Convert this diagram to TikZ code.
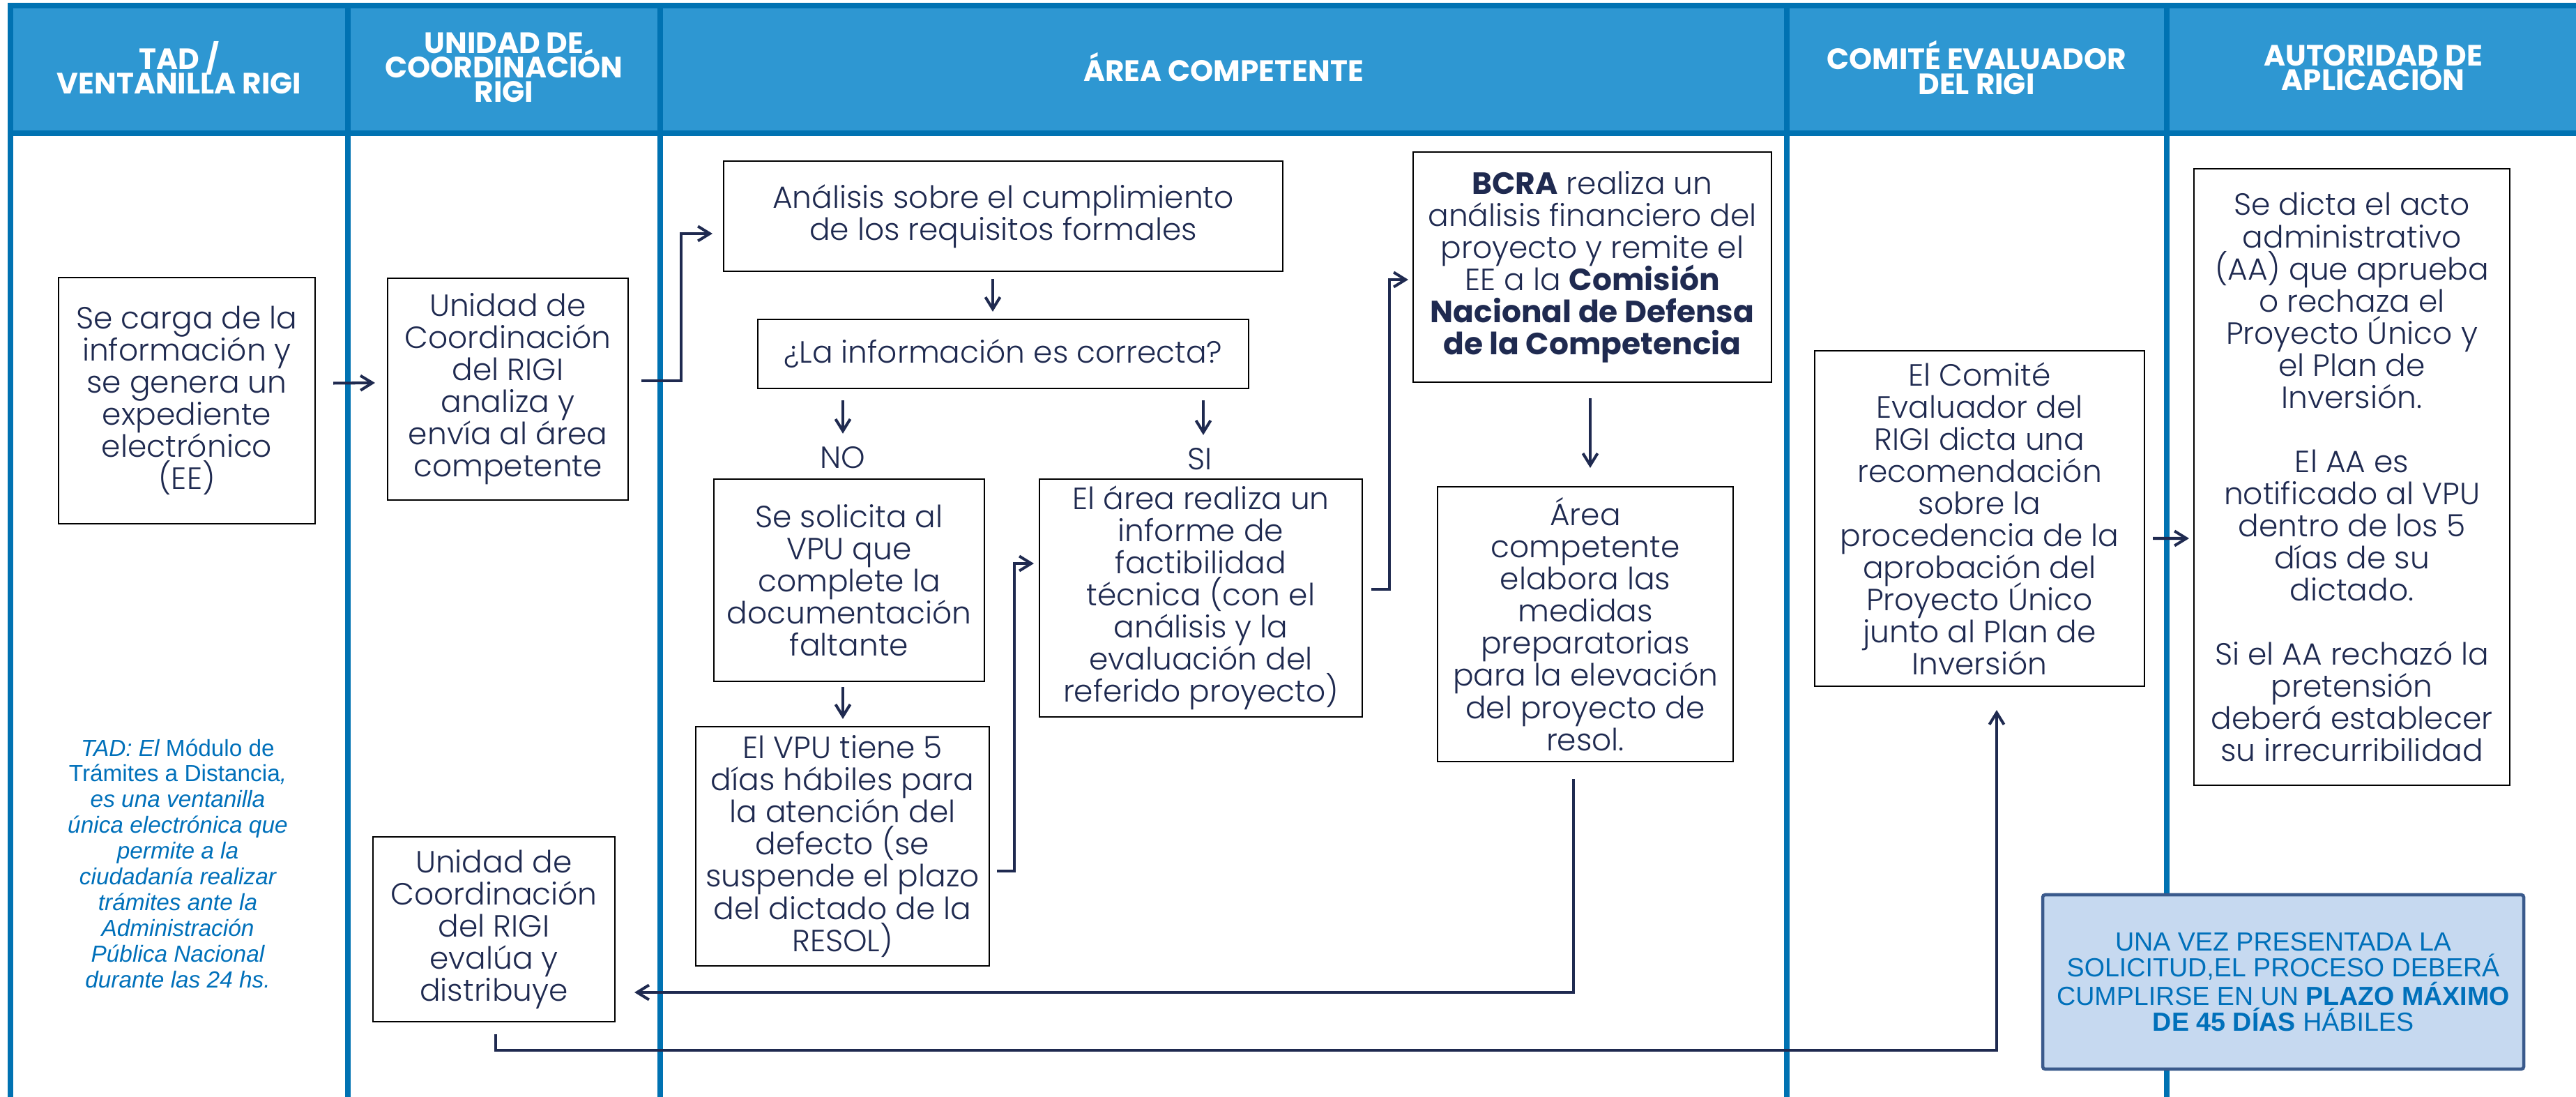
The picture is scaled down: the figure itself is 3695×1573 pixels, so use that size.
\documentclass[tikz,border=0pt]{standalone}
\usepackage{fontspec}
\setmainfont{Poppins}[UprightFont=* Light, BoldFont=* Bold]
\newfontfamily\headfont{Poppins}[UprightFont=* Bold]
\newfontfamily\arialfont{Liberation Sans}
\usetikzlibrary{arrows,arrows.meta,calc}
\definecolor{peterriver}{RGB}{46, 151, 210}
\definecolor{belizehole}{RGB}{0, 114, 178}
\definecolor{midnight}{RGB}{31, 42, 80}
\definecolor{cobalt}{RGB}{0, 112, 186}
\definecolor{skyfill}{RGB}{198, 217, 240}
\definecolor{steel}{RGB}{58, 90, 140}
\newcommand\tightlines{\lineskiplimit-100pt\relax}
\tikzset{
    lane/.style={belizehole, line width=0.8mm},
    head/.style={text=white, align=center, inner sep=0pt, font=\fontsize{12pt}{10pt}\selectfont\headfont\tightlines},
    box/.style={draw=black, line width=0.6pt, fill=white, align=center, inner sep=0pt, text=midnight, font=\fontsize{12.5pt}{13.1pt}\selectfont\tightlines},
    yesno/.style={inner sep=0pt, text=midnight, text height=3.1mm, text depth=0pt, font=\fontsize{12.5pt}{13.1pt}\selectfont},
    arr/.style={midnight, line width=1.15pt, -{Straight Barb[length=1.7mm, width=2.1mm]}}
}
\begin{document}
        \begin{tikzpicture}[x=0.1mm, y=-0.1mm]
            \useasboundingbox (0,0) rectangle (3695,1573);
            \fill[peterriver] (15,8) rectangle (3695,191);
            \draw[lane] (15,1573) -- (15,8) -- (3695,8);
            \draw[lane] (15,191) -- (3695,191);
            \foreach \x in {499,947,2563,3108}
                \draw[lane] (\x,8) -- (\x,1573);
            \node[head] (h1) at (257,97) {TAD /\\VENTANILLA RIGI};
            \node[head] (h2) at (723,97) {UNIDAD DE\\COORDINACIÓN\\RIGI};
            \node[head] (h3) at (1755,96) {ÁREA COMPETENTE};
            \node[head] (h4) at (2835,97) {COMITÉ EVALUADOR\\DEL RIGI};
            \node[head] (h5) at (3404,97) {AUTORIDAD DE\\APLICACIÓN};

            \node[box, minimum width=36.8mm, minimum height=35.3mm] (carga) at (268,574.5)
                {Se carga de la\\información y\\se genera un\\expediente\\electrónico\\(EE)};
            \node[box, minimum width=34.5mm, minimum height=31.8mm] (analiza) at (728.5,558)
                {Unidad de\\Coordinación\\del RIGI\\analiza y\\envía al área\\competente};
            \node[box, minimum width=80.2mm, minimum height=15.8mm] (analisis) at (1439,310)
                {Análisis sobre el cumplimiento\\de los requisitos formales};
            \node[box, minimum width=70.4mm, minimum height=9.9mm] (pregunta) at (1439,507.5)
                {¿La información es correcta?};
            \node[yesno] (no) at (1209,656) {NO};
            \node[yesno] (si) at (1721,658) {SI};
            \node[box, minimum width=38.8mm, minimum height=29mm] (solicita) at (1218,832)
                {Se solicita al\\VPU que\\complete la\\documentación\\faltante};
            \node[box, minimum width=42.1mm, minimum height=34.3mm] (vpu) at (1208.5,1213.5)
                {El VPU tiene 5\\días hábiles para\\la atención del\\defecto (se\\suspende el plazo\\del dictado de la\\RESOL)};
            \node[box, minimum width=46.3mm, minimum height=34.1mm] (area) at (1722.5,857.5)
                {El área realiza un\\informe de\\factibilidad\\técnica (con el\\análisis y la\\evaluación del\\referido proyecto)};
            \node[box, minimum width=51.4mm, minimum height=33mm] (bcra) at (2284,383)
                {\textbf{BCRA} realiza un\\análisis financiero del\\proyecto y remite el\\EE a la \textbf{Comisión}\\\textbf{Nacional de Defensa}\\\textbf{de la Competencia}};
            \node[box, minimum width=42.4mm, minimum height=39.4mm] (elabora) at (2274,895)
                {Área\\competente\\elabora las\\medidas\\preparatorias\\para la elevación\\del proyecto de\\resol.};
            \node[box, minimum width=34.7mm, minimum height=26.5mm] (evalua) at (708.5,1332.5)
                {Unidad de\\Coordinación\\del RIGI\\evalúa y\\distribuye};
            \node[box, minimum width=47.3mm, minimum height=48.1mm] (comite) at (2839.5,743.5)
                {El Comité\\Evaluador del\\RIGI dicta una\\recomendación\\sobre la\\procedencia de la\\aprobación del\\Proyecto Único\\junto al Plan de\\Inversión};
            \node[box, minimum width=45.3mm, minimum height=88.4mm] (autoridad) at (3373.5,684)
                {Se dicta el acto\\administrativo\\(AA) que aprueba\\o rechaza el\\Proyecto Único y\\el Plan de\\Inversión.\\[13.1pt]El AA es\\notificado al VPU\\dentro de los 5\\días de su\\dictado.\\[13.1pt]Si el AA rechazó la\\pretensión\\deberá establecer\\su irrecurribilidad};

            \node[align=center, inner sep=0pt, text=cobalt, font=\fontsize{9.5pt}{10.5pt}\selectfont\arialfont\itshape] (tad) at (255,1238)
                {TAD: El {\upshape Módulo de}\\{\upshape Trámites a Distancia},\\es una ventanilla\\única electrónica que\\permite a la\\ciudadanía realizar\\trámites ante la\\Administración\\Pública Nacional\\durante las 24 hs.};
            \node[draw=steel, line width=1.3pt, fill=skyfill, rounded corners=1pt, align=center, inner sep=0pt,
                  minimum width=69mm, minimum height=25mm, text=cobalt, font=\fontsize{10.7pt}{10.5pt}\selectfont\arialfont] (plazo) at (3275,1408)
                {UNA VEZ PRESENTADA LA\\SOLICITUD,EL PROCESO DEBERÁ\\CUMPLIRSE EN UN \textbf{PLAZO MÁXIMO}\\\textbf{DE 45 DÍAS} HÁBILES};

            \draw[arr] ($(carga.east)+(25,-25)$) -- ($(analiza.west)+(-17,-9)$);
            \draw[arr] ($(analiza.east)+(18,-12)$) -- ++(57,0) |- ($(analisis.west)+(-15,25)$);
            \draw[arr] ($(analisis.south)+(-15,10)$) -- ($(pregunta.north)+(-15,-10)$);
            \draw[arr] ($(pregunta.south -| no)+(0,16)$) -- ($(no.north)+(0,-18)$);
            \draw[arr] ($(pregunta.south -| si)+(5,16)$) -- ($(si.north)+(5,-18)$);
            \draw[arr] ($(solicita.south -| no)+(0,7)$) -- ($(vpu.north -| no)+(0,-10)$);
            \draw[arr] ($(vpu.east)+(10,35.5)$) -- ++(25,0) |- ($(area.west)+(-7,-49.5)$);
            \draw[arr] ($(area.east)+(12,-12.5)$) -- ++(26,0) |- ($(bcra.west)+(-6,18)$);
            \draw[arr] ($(bcra.south)+(-3,22)$) -- ($(elabora.north)+(7,-26)$);
            \draw[arr] ($(elabora.south)+(-17,24)$) |- ($(evalua.east)+(27,90.5)$);
            \draw[arr] ($(evalua.south)+(2.5,17)$) -- ++(0,23) -| ($(comite.south)+(24.5,33)$);
            \draw[arr] ($(comite.east)+(11,28.5)$) -- ($(autoridad.west)+(-6,88)$);
        \end{tikzpicture}
\end{document}
